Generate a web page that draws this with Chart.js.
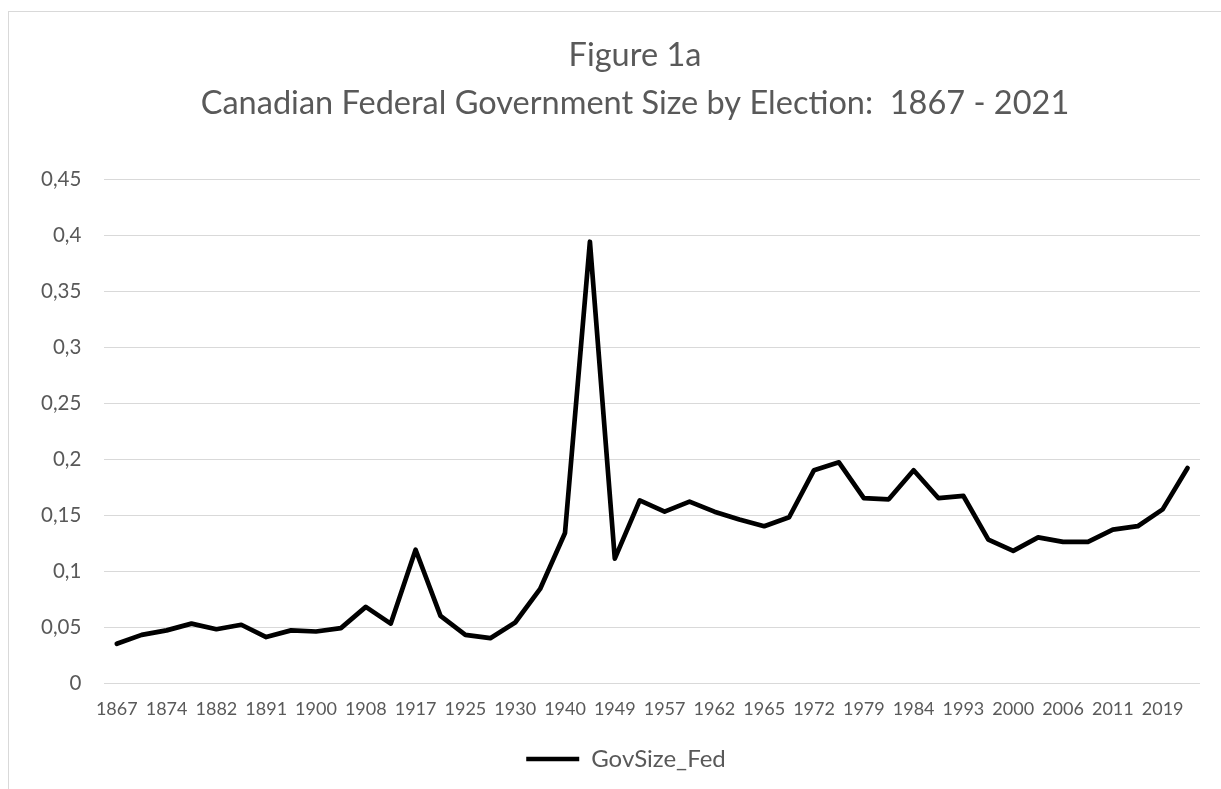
<!DOCTYPE html>
<html>
<head>
<meta charset="utf-8">
<script src="https://cdn.jsdelivr.net/npm/chart.js@4"></script>
<style>
  html, body { margin: 0; padding: 0; background: #fff; overflow: hidden; }
  #frame { position: absolute; left: 8px; top: 11px; width: 1300px; height: 900px; border: 1px solid #d9d9d9; }
  #wrap { position: absolute; left: 8px; top: 0; width: 1244px; height: 789px; }
</style>
</head>
<body>
<div id="frame"></div>
<div id="wrap"><canvas id="chart"></canvas></div>
<script>
// election years (category axis)
const years = [1867, 1872, 1874, 1878, 1882, 1887, 1891, 1896, 1900, 1904,
               1908, 1911, 1917, 1921, 1925, 1926, 1930, 1935, 1940, 1945,
               1949, 1953, 1957, 1958, 1962, 1963, 1965, 1968, 1972, 1974,
               1979, 1980, 1984, 1988, 1993, 1997, 2000, 2004, 2006, 2008,
               2011, 2015, 2019, 2021];

// GovSize_Fed
const govSizeFed = [0.035, 0.043, 0.047, 0.053, 0.048, 0.052, 0.041, 0.047, 0.046, 0.049,
                    0.068, 0.053, 0.119, 0.060, 0.043, 0.040, 0.054, 0.084, 0.134, 0.394,
                    0.111, 0.163, 0.153, 0.162, 0.153, 0.146, 0.140, 0.148, 0.190, 0.197,
                    0.165, 0.164, 0.190, 0.165, 0.167, 0.128, 0.118, 0.130, 0.126, 0.126,
                    0.137, 0.140, 0.155, 0.192];

const yMin = 0, yMax = 0.45, yStep = 0.05;

const textColor = '#595959';
const gridColor = '#d9d9d9';

Chart.defaults.font.family = 'Lato, "Open Sans", sans-serif';
Chart.defaults.color = textColor;

// the title and legend sit centred on the whole chart frame, not on the canvas
const shiftBlocks = {
    id: 'shiftBlocks',
    afterLayout(chart) {
        const t = chart.titleBlock, l = chart.legend;
        if (t) { t.left += 26; t.right += 26; }
        if (l) { l.left += 17; l.right += 17; }
    }
};

const ctx = document.getElementById('chart').getContext('2d');
const chart = new Chart(ctx, {
    type: 'line',
    data: {
        labels: years.map(String),
        datasets: [{
            label: 'GovSize_Fed',
            data: govSizeFed,
            borderColor: '#000000',
            backgroundColor: '#000000',
            borderWidth: 4.7,
            borderJoinStyle: 'round',
            borderCapStyle: 'round',
            pointRadius: 0,
            pointHoverRadius: 0,
            pointStyle: 'line',
            tension: 0,
            fill: false
        }]
    },
    plugins: [shiftBlocks],
    options: {
        responsive: true,
        maintainAspectRatio: false,
        animation: false,
        layout: {
            padding: { left: 10, right: 52, top: 0, bottom: 8 }
        },
        plugins: {
            title: {
                display: true,
                text: ['Figure 1a', 'Canadian Federal Government Size by Election:  1867 - 2021'],
                color: textColor,
                font: { size: 32.5, weight: 'normal', lineHeight: 1.477 },
                padding: { top: 32, bottom: 51 }
            },
            legend: {
                position: 'bottom',
                labels: {
                    usePointStyle: true,
                    pointStyle: 'line',
                    pointStyleWidth: 53,
                    color: textColor,
                    font: { size: 24 },
                    padding: 12.4
                }
            },
            tooltip: { enabled: false }
        },
        scales: {
            x: {
                offset: true,
                grid: { display: false, drawTicks: false },
                border: { display: false },
                ticks: {
                    autoSkip: false,
                    maxRotation: 0,
                    padding: 15,
                    color: textColor,
                    font: { size: 18 },
                    callback: function(value, index) {
                        return index % 2 === 0 ? this.getLabelForValue(value) : '';
                    }
                }
            },
            y: {
                min: yMin,
                max: yMax,
                grid: { color: gridColor, lineWidth: 1, drawTicks: false },
                border: { display: false },
                ticks: {
                    stepSize: yStep,
                    padding: 23,
                    color: textColor,
                    font: { size: 20.5 },
                    callback: function(value) {
                        return String(Math.round(value * 100) / 100).replace('.', ',');
                    }
                }
            }
        }
    }
});
</script>
</body>
</html>
